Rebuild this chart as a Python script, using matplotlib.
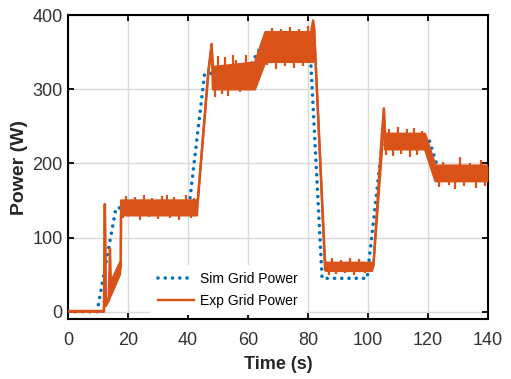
import matplotlib
matplotlib.use("Agg")
import matplotlib.pyplot as plt

plt.rcParams['font.family'] = ['Liberation Sans', 'DejaVu Sans']

# simulated grid power (W)
sim_t = [0, 9.7, 16.0, 40.3, 45.5, 60.5, 66.0, 80.5, 84.7, 99.7, 104.8, 120.5, 124.0, 140]
sim_p = [0, 0, 140, 140, 320, 330, 370, 370, 45, 45, 230, 230, 185, 185]

# experimental grid power: lower / upper envelope of the noisy trace
exp_t = [0, 12.0, 12.3, 12.6, 13.6, 14.0, 14.3, 17.3, 17.6, 17.7, 43.0, 43.3, 46.8, 47.9,
         48.3, 62.3, 65.8, 81.0, 81.7, 82.0, 85.7, 86.2, 101.3, 101.8, 104.6, 105.3,
         105.7, 119.0, 122.5, 140]
exp_lo = [0, 0, 145, 8, 15, 20, 22, 50, 60, 130, 130, 150, 322, 361,
          300, 300, 337, 337, 337, 385, 56, 55, 55, 62, 215, 274,
          219, 219, 176, 176]
exp_hi = [1, 1, 145, 8, 20, 86, 40, 66, 66, 150, 150, 152, 326, 361,
          330, 336, 377, 377, 393, 385, 66, 66, 66, 62, 240, 274,
          240, 240, 197, 197]

# occasional excursions outside the envelope
spike_t = [18.5, 19.5, 21, 22.5, 24, 25.5, 27, 28, 30, 31.5, 33, 34, 35.5, 37, 39.5, 41, 42,
           49, 50, 51.5, 52.5, 53.5, 55, 56, 57.5, 59.4, 61,
           66.5, 68, 69.5, 71, 72.5, 74, 75.5, 77, 78.5, 80,
           87, 88, 89.5, 91, 92.5, 94, 95.5, 97, 99,
           106, 107, 108.5, 110, 111, 113, 114, 115.5, 116.5, 118,
           123.5, 125, 127, 129, 130.7, 132, 134, 136, 137.5, 139]
spike_lo = [126, 145, 129, 145, 124, 145, 128, 145, 125, 145, 140, 127, 145, 124, 145, 126, 145,
            289, 320, 293, 320, 291, 320, 325, 296, 330, 299,
            333, 365, 328, 365, 331, 370, 329, 365, 332, 370,
            50, 62, 51, 63, 52, 61, 50, 62, 52,
            212, 235, 210, 235, 213, 236, 209, 236, 212, 233,
            168, 190, 171, 165, 195, 169, 190, 167, 190, 170]
spike_hi = [150, 156, 150, 155, 150, 157, 150, 154, 150, 156, 157, 150, 155, 150, 157, 150, 154,
            300, 345, 300, 343, 300, 346, 340, 300, 346, 300,
            337, 383, 337, 381, 337, 384, 337, 382, 337, 386,
            55, 72, 55, 70, 55, 73, 55, 71, 55,
            219, 246, 219, 249, 219, 247, 219, 248, 219, 244,
            176, 202, 176, 176, 209, 176, 201, 176, 205, 176]

x_ticks = [0, 20, 40, 60, 80, 100, 120, 140]
y_ticks = [0, 100, 200, 300, 400]

blue = '#0072BD'
orange = '#D95319'

fig = plt.figure(figsize=(5.11, 3.79), dpi=100)
ax = fig.add_axes([0.133, 0.158, 0.822, 0.802])

ax.plot(sim_t, sim_p, color=blue, lw=2.6, linestyle=(0, (0.01, 2.0)),
        dash_capstyle='round', label='Sim Grid Power', zorder=2)

ax.fill_between(exp_t, exp_lo, exp_hi, color=orange, lw=0, zorder=3)
ax.plot(exp_t, exp_lo, color=orange, lw=1.7, zorder=3, label='Exp Grid Power')
ax.plot(exp_t, exp_hi, color=orange, lw=1.7, zorder=3)
ax.vlines(spike_t, spike_lo, spike_hi, color=orange, lw=1.6, zorder=3)

ax.set_xlim(0, 140)
ax.set_ylim(-10, 400)
ax.set_xticks(x_ticks)
ax.set_yticks(y_ticks)
ax.grid(True, color='#d9d9d9', lw=1.0)
ax.set_axisbelow(True)
ax.tick_params(direction='in', length=4, width=1.3, top=True, right=True,
               labelsize=13, labelcolor='#333333')
ax.tick_params(axis='x', pad=9)
ax.tick_params(axis='y', pad=4)
for s in ax.spines.values():
    s.set_linewidth(1.5)

ax.set_xlabel('Time (s)', fontsize=13, fontweight='bold', color='#262626', labelpad=5)
ax.set_ylabel('Power (W)', fontsize=14, fontweight='bold', color='#262626', labelpad=3)

leg = ax.legend(loc='lower left', bbox_to_anchor=(0.195, 0.012), borderaxespad=0,
                fontsize=10, handlelength=2.6, handletextpad=0.45, labelspacing=0.55,
                borderpad=0.55, frameon=True, fancybox=False, framealpha=1,
                facecolor='white', edgecolor='none')

fig.savefig('out.png', dpi=100)
